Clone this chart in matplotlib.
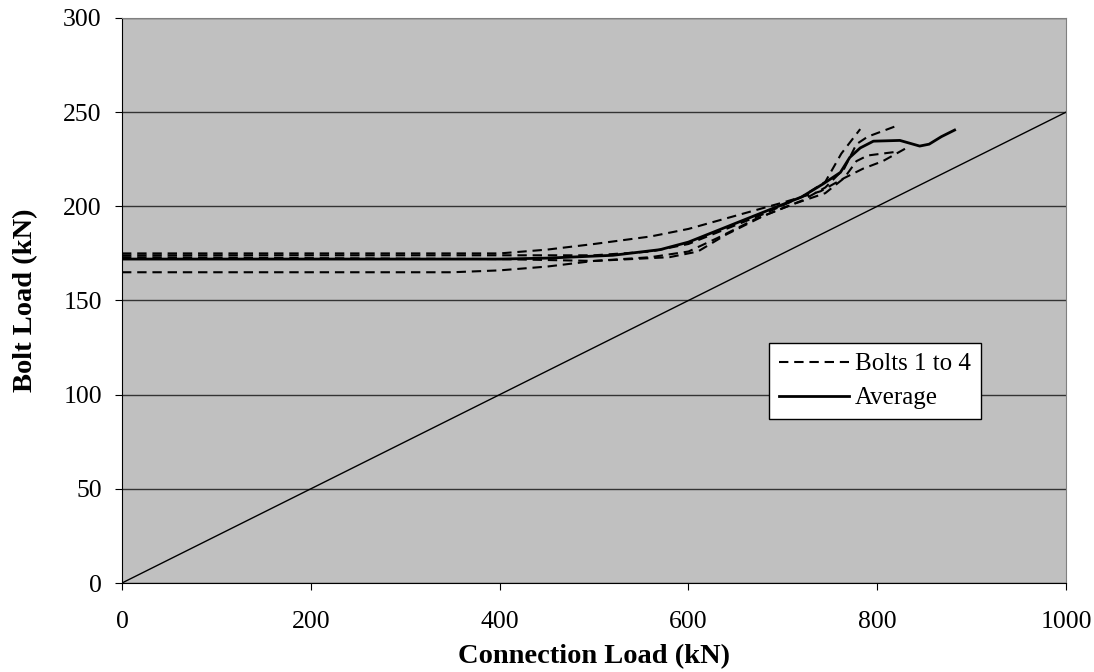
import numpy as np
import matplotlib
matplotlib.use("Agg")
import matplotlib.pyplot as plt
from matplotlib.lines import Line2D

plt.rcParams['font.family'] = ['Liberation Serif', 'DejaVu Serif']

# bolt load curves (kN)
bolt1_x = [0, 400, 450, 500, 560, 600, 650, 700, 740, 765, 785, 806, 831]
bolt1_y = [175, 175, 177, 180, 184, 188, 195, 202, 208, 215, 220, 224, 231]

bolt2_x = [0, 500, 560, 600, 640, 680, 720, 745, 762, 782]
bolt2_y = [174, 174, 176, 180, 188, 196, 205, 213, 228, 241]

bolt3_x = [0, 400, 500, 580, 610, 640, 680, 720, 745, 765, 778, 790, 822]
bolt3_y = [173, 172, 171, 173, 176, 185, 195, 203, 210, 220, 233, 237, 243]

bolt4_x = [0, 350, 400, 450, 500, 560, 600, 630, 670, 710, 745, 765, 778, 790, 821]
bolt4_y = [165, 165, 166, 168, 171, 173, 176, 183, 193, 201, 207, 215, 224, 227, 229]

avg_x = [0, 400, 450, 520, 570, 600, 640, 680, 720, 743, 761, 771, 782, 796, 824, 845, 855, 868, 882]
avg_y = [172, 172, 172.5, 174, 177, 181, 189, 197, 205, 212, 218, 226, 231, 234.6, 235, 232, 233, 237, 240.5]

# reference line: bolt load = connection load / 4
ref_x = [0, 1000]
ref_y = [0, 250]

dash = (0, (4.5, 2.8))

fig = plt.figure(figsize=(10.94, 6.72), dpi=100)
ax = fig.add_axes([122/1094, 1 - 583/672, (1066-122)/1094, (583-18)/672])
ax.set_facecolor('#C0C0C0')

ax.plot(ref_x, ref_y, color='black', lw=1.0)
for bx, by in [(bolt1_x, bolt1_y), (bolt2_x, bolt2_y), (bolt3_x, bolt3_y), (bolt4_x, bolt4_y)]:
    ax.plot(bx, by, color='black', lw=1.5, ls=dash)
ax.plot(avg_x, avg_y, color='black', lw=2.0)

ax.set_xlim(0, 1000)
ax.set_ylim(0, 300)
ax.set_xticks(np.arange(0, 1001, 200))
ax.set_yticks(np.arange(0, 301, 50))
ax.yaxis.grid(True, color='#333333', lw=1.0)
ax.set_axisbelow(True)
ax.tick_params(labelsize=18.5, direction='out', length=5, color='black')
ax.tick_params(axis='x', pad=15)
ax.tick_params(axis='y', pad=9.5)

for side in ['top', 'right']:
    ax.spines[side].set_color('#808080')
ax.spines['left'].set_color('black')
ax.spines['bottom'].set_color('black')

ax.set_xlabel('Connection Load (kN)', fontsize=20.5, fontweight='bold', labelpad=8)
ax.set_ylabel('Bolt Load (kN)', fontsize=20.5, fontweight='bold', labelpad=18)

handles = [Line2D([], [], color='black', lw=1.5, ls=dash),
           Line2D([], [], color='black', lw=2.0)]
leg = fig.legend(handles, ['Bolts 1 to 4', 'Average'], loc='upper left',
                 bbox_to_anchor=(769/1094, 1 - 343/672), fontsize=18,
                 frameon=True, fancybox=False, framealpha=1, edgecolor='black',
                 handlelength=2.8, handletextpad=0.25, borderpad=0.4,
                 labelspacing=0.45, borderaxespad=0)
leg.get_frame().set_linewidth(1.0)

fig.savefig('out.png', dpi=100)
